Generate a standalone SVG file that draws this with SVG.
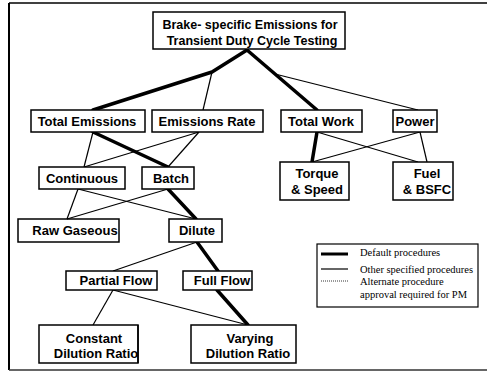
<svg xmlns="http://www.w3.org/2000/svg" width="487" height="373" viewBox="0 0 487 373">
<style>
.box{fill:#fff;stroke:#000;stroke-width:1.5}
.t{font-family:"Liberation Sans",Arial,sans-serif;font-weight:bold;font-size:13px;fill:#000;text-anchor:middle}
.tt{font-size:12.5px}
.thick{stroke:#000;stroke-width:3.5;fill:none;stroke-linecap:round;stroke-linejoin:round}
.thin{stroke:#000;stroke-width:1.2;fill:none}
.lg{font-family:"Liberation Serif","Times New Roman",serif;font-size:10.5px;fill:#000}
</style>
<rect x="0" y="0" width="487" height="373" fill="#fff"/>
<g id="frame" stroke="#000" fill="none">
<line x1="9" y1="3" x2="487" y2="3" stroke-width="1.5"/>
<line x1="9" y1="3" x2="9" y2="370" stroke-width="2"/>
<line x1="9" y1="370" x2="487" y2="370" stroke-width="1.5" stroke="#333"/>
</g>
<g id="connectors">
<polyline class="thick" points="247,50 212,72 93,110"/>
<line class="thin" x1="212" y1="72" x2="203" y2="110"/>
<line class="thick" x1="247" y1="50" x2="317" y2="110"/>
<line class="thin" x1="275" y1="74" x2="418" y2="110"/>
<line class="thin" x1="93" y1="132" x2="84" y2="167"/>
<line class="thick" x1="93" y1="132" x2="168" y2="167"/>
<line class="thin" x1="199" y1="132" x2="84" y2="167"/>
<line class="thin" x1="199" y1="132" x2="168" y2="167"/>
<line class="thick" x1="317" y1="132" x2="312" y2="162"/>
<line class="thin" x1="317" y1="132" x2="418" y2="162"/>
<line class="thin" x1="420" y1="132" x2="312" y2="162"/>
<line class="thin" x1="420" y1="132" x2="427" y2="162"/>
<line class="thin" x1="78" y1="189" x2="67" y2="219"/>
<line class="thin" x1="78" y1="189" x2="196" y2="219"/>
<line class="thin" x1="168" y1="189" x2="67" y2="219"/>
<line class="thick" x1="168" y1="189" x2="196" y2="219"/>
<line class="thin" x1="197" y1="242" x2="113" y2="271"/>
<line class="thick" x1="197" y1="242" x2="218" y2="271"/>
<line class="thin" x1="113" y1="290" x2="93" y2="325"/>
<line class="thin" x1="113" y1="290" x2="248" y2="325"/>
<line class="thick" x1="217" y1="290" x2="248" y2="325"/>
</g>
<g id="title">
<rect class="box" x="153" y="12" width="192" height="37"/>
<text class="t tt" x="250" y="29">Brake- specific Emissions for</text>
<text class="t tt" x="252" y="45">Transient Duty Cycle Testing</text>
</g>
<g id="total-emissions">
<rect class="box" x="31" y="110" width="114" height="22"/>
<text class="t" x="87" y="126">Total Emissions</text>
</g>
<g id="emissions-rate">
<rect class="box" x="152" y="110" width="111" height="22"/>
<text class="t" x="207" y="126">Emissions Rate</text>
</g>
<g id="total-work">
<rect class="box" x="281" y="110" width="81" height="22"/>
<text class="t" x="321" y="126">Total Work</text>
</g>
<g id="power">
<rect class="box" x="393" y="110" width="44" height="22"/>
<text class="t" x="415" y="126">Power</text>
</g>
<g id="continuous">
<rect class="box" x="39" y="167" width="86" height="22"/>
<text class="t" x="82" y="183">Continuous</text>
</g>
<g id="batch">
<rect class="box" x="142" y="167" width="52" height="22"/>
<text class="t" x="171" y="183">Batch</text>
</g>
<g id="torque-speed">
<rect class="box" x="280" y="162" width="69" height="38"/>
<text class="t" x="317" y="178">Torque</text>
<text class="t" x="317" y="194">&amp; Speed</text>
</g>
<g id="fuel-bsfc">
<rect class="box" x="393" y="162" width="60" height="38"/>
<text class="t" x="427" y="178">Fuel</text>
<text class="t" x="427" y="194">&amp; BSFC</text>
</g>
<g id="raw-gaseous">
<text class="t" x="75" y="235">Raw Gaseous</text>
<rect class="box" x="18" y="219" width="101" height="23" style="fill:none"/>
</g>
<g id="dilute">
<rect class="box" x="169" y="219" width="53" height="23"/>
<text class="t" x="197" y="235">Dilute</text>
</g>
<g id="partial-flow">
<rect class="box" x="66" y="271" width="91" height="19"/>
<text class="t" x="116" y="285">Partial Flow</text>
</g>
<g id="full-flow">
<rect class="box" x="183" y="271" width="69" height="19"/>
<text class="t" x="222" y="285">Full Flow</text>
</g>
<g id="constant-dilution">
<rect class="box" x="39" y="325" width="99" height="38"/>
<text class="t" x="94" y="343">Constant</text>
<text class="t" x="96" y="358">Dilution Ratio</text>
<line x1="138" y1="325" x2="138" y2="363" stroke="#000" stroke-width="1.5"/>
</g>
<g id="varying-dilution">
<rect class="box" x="191" y="325" width="105" height="38"/>
<text class="t" x="250" y="343">Varying</text>
<text class="t" x="248" y="358">Dilution Ratio</text>
</g>
<g id="legend">
<rect class="box" x="317" y="244" width="161" height="63" style="stroke-width:1.2"/>
<line x1="321" y1="254" x2="348" y2="254" stroke="#000" stroke-width="3"/>
<line x1="321" y1="269" x2="348" y2="269" stroke="#000" stroke-width="1.2"/>
<line x1="321" y1="281" x2="348" y2="281" stroke="#000" stroke-width="0.8" stroke-dasharray="1,1"/>
<text class="lg" x="360" y="256">Default procedures</text>
<text class="lg" x="360" y="273">Other specified procedures</text>
<text class="lg" x="360" y="285">Alternate procedure</text>
<text class="lg" x="360" y="298">approval required for PM</text>
</g>
</svg>
